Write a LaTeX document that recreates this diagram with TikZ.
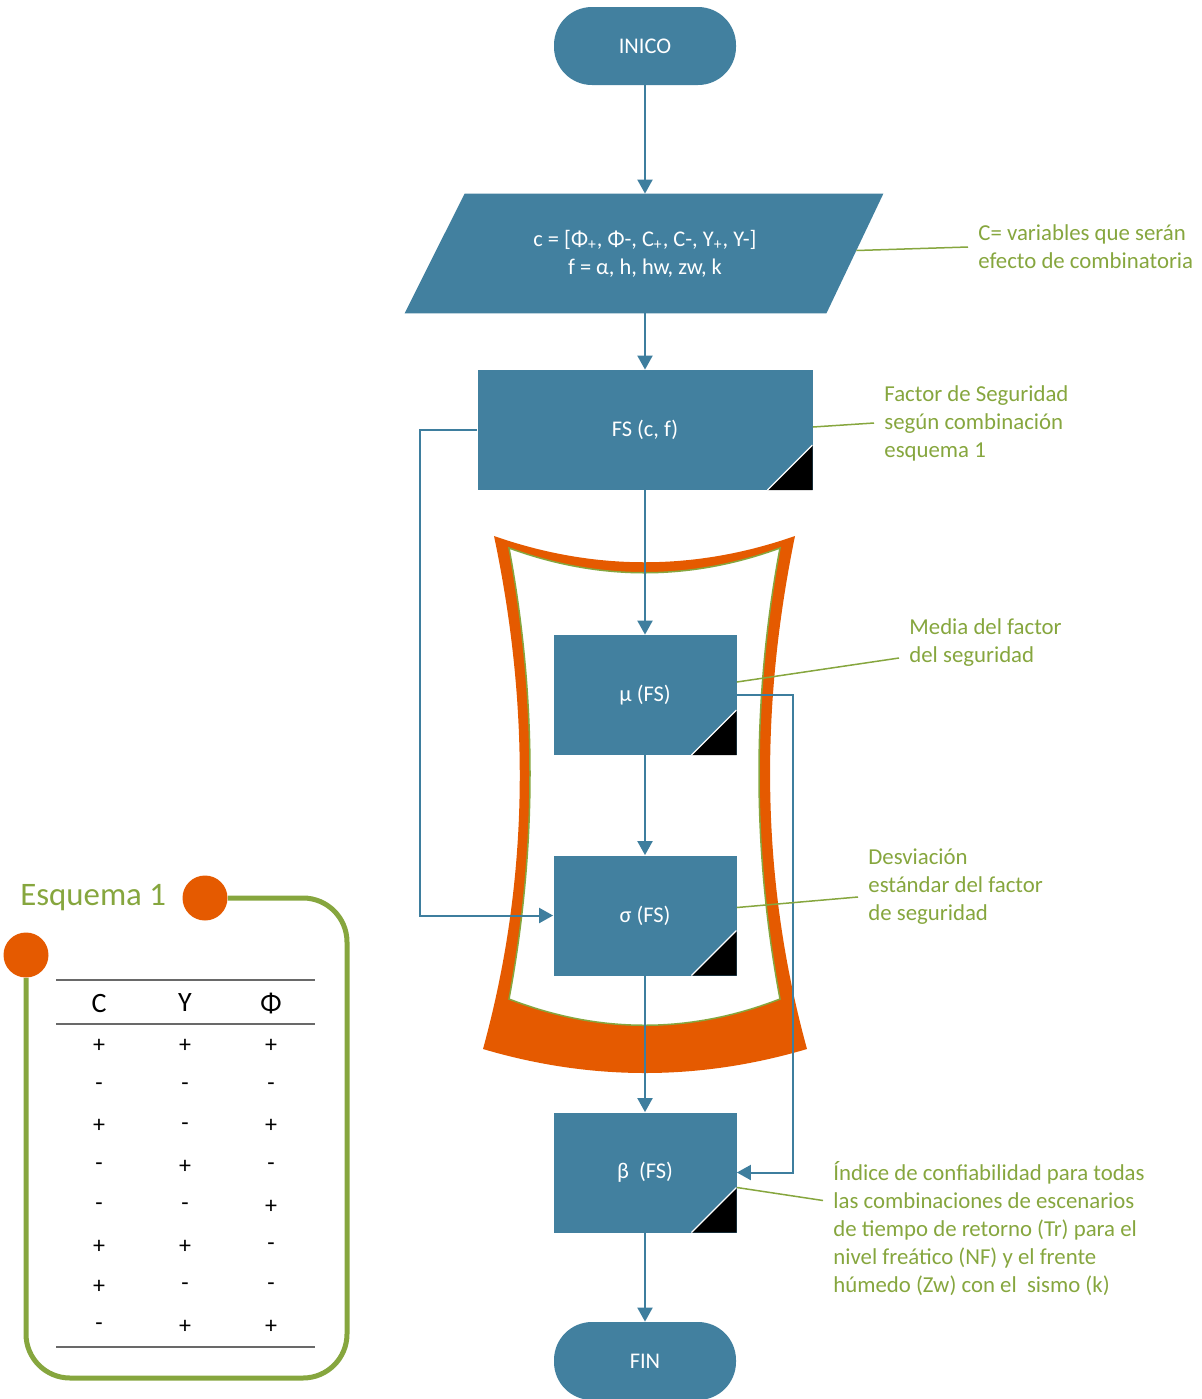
\documentclass[tikz,border=0pt]{standalone}
\usepackage{fontspec}
\setmainfont{Carlito}
\usetikzlibrary{arrows.meta,calc,backgrounds}

\definecolor{boxblue}{RGB}{66,128,159}
\definecolor{lineblue}{RGB}{62,126,158}
\definecolor{notegreen}{RGB}{134,166,62}
\definecolor{frameorange}{RGB}{229,90,0}
\definecolor{rulegray}{RGB}{105,105,105}

\begin{document}
\begin{tikzpicture}[x=0.5pt, y=-0.5pt,
        terminal/.style={fill=boxblue, rounded corners=19pt, minimum width=91pt, minimum height=39pt, text=white, font=\fontsize{11.2}{14}\selectfont},
        iobox/.style={minimum width=210pt, minimum height=59.5pt, text=white, align=center, font=\fontsize{11.2}{14}\selectfont},
        process/.style={fill=boxblue, minimum height=60pt, text=white, font=\fontsize{11.2}{14}\selectfont,
            path picture={
                \fill[black] ([yshift=22.5pt]path picture bounding box.south east) -- (path picture bounding box.south east) -- ([xshift=-22.5pt]path picture bounding box.south east) -- cycle;
                \draw[white, line width=0.6pt] ([yshift=22.5pt]path picture bounding box.south east) -- ([xshift=-22.5pt]path picture bounding box.south east);
            }},
        flow/.style={draw=lineblue, line width=1pt, -{Triangle[width=7.5pt,length=7pt]}},
        note/.style={draw=notegreen, line width=0.75pt},
        notetext/.style={anchor=west, inner sep=5pt, align=left, text=notegreen, font=\fontsize{11.4}{14}\selectfont},
        dot/.style={circle, fill=frameorange, minimum size=22.5pt, inner sep=0pt},
        head/.style={font=\fontsize{14}{16}\selectfont},
        sign/.style={font=\fontsize{12}{14}\selectfont}
    ]

    \useasboundingbox (0,0) rectangle (1201,1399);

    % marco naranja
    \fill[frameorange] (494,536) .. controls (594,571) and (695,571) .. (795,536)
        .. controls (760,707) and (760,878) .. (807,1049)
        .. controls (699,1081) and (591,1081) .. (483,1049)
        .. controls (530,878) and (530,707) .. (494,536) -- cycle;
    \filldraw[fill=white, draw=notegreen, line width=0.75pt] (509,548) .. controls (599,581) and (690,581) .. (780,548)
        .. controls (752,698) and (752,849) .. (780,999)
        .. controls (690,1034) and (599,1034) .. (509,999)
        .. controls (537,849) and (537,698) .. (509,548) -- cycle;

    % diagrama de flujo
    \node[terminal] (inicio) at (645,46) {INICO};
    \node[iobox] (datos) at (645,253.5) {c = [Φ\textsubscript{+}, Φ-, C\textsubscript{+}, C-, Y\textsubscript{+}, Y-]\\f = α, h, hw, zw, k};
    \begin{scope}[on background layer]
        \fill[boxblue] ($(datos.north west)+(30,0)$) -- ($(datos.north east)+(28,0)$) -- ($(datos.south east)+(-29,0)$) -- ($(datos.south west)+(-30,0)$) -- cycle;
    \end{scope}
    \node[process, minimum width=167.5pt] (fs) at (645,430) {FS (c, f)};
    \node[process, minimum width=91.5pt] (mu) at (645,695) {μ (FS)};
    \node[process, minimum width=91.5pt] (sigma) at (645,915.5) {σ (FS)};
    \node[process, minimum width=91.5pt] (beta) at (645,1172.5) {β~~(FS)};
    \node[terminal] (fin) at (645,1361) {FIN};

    \draw[flow] (inicio.south) -- (datos.north);
    \draw[flow] (datos.south) -- (fs.north);
    \draw[flow] (fs.south) -- (mu.north);
    \draw[flow] (mu.south) -- (sigma.north);
    \draw[flow] (sigma.south) -- (beta.north);
    \draw[flow] (beta.south) -- (fin.north);
    \draw[flow] (fs.west) -- ++(-57,0) |- (sigma.west);
    \draw[flow] (mu.east) -- ++(56,0) |- (beta.east);

    % notas
    \node[notetext] (n1) at (968,247) {C= variables que serán\\efecto de combinatoria};
    \node[notetext] (n2) at (874,423) {Factor de Seguridad\\según combinación\\esquema 1};
    \node[notetext] (n3) at (899,643) {Media del factor\\del seguridad};
    \node[notetext] (n4) at (858,887) {Desviación\\estándar del factor\\de seguridad};
    \node[notetext] (n5) at (823,1228.5) {Índice de confiabilidad para todas\\las combinaciones de escenarios\\de tiempo de retorno (Tr) para el\\nivel freático (NF) y el frente\\húmedo (Zw) con el~~sismo (k)};
    \draw[note] ($(datos.east)+(1,-3)$) -- (n1.west);
    \draw[note] ([yshift=1.5pt]fs.east) -- (n2.west);
    \draw[note] ([yshift=6.5pt]mu.east) -- ([yshift=-7.5pt]n3.west);
    \draw[note] ([yshift=4pt]sigma.east) -- ([yshift=-5pt]n4.west);
    \draw[note] ([yshift=-7.5pt]beta.east) -- ([yshift=14pt]n5.west);

    % esquema 1
    \node[anchor=west, inner sep=0pt, text=notegreen, font=\fontsize{16.4}{20}\selectfont] (esquema) at (20,898) {Esquema 1};
    \node[dot] (d1) at (205,898) {};
    \node[dot] (d2) at (26,955) {};
    \draw[notegreen, line width=2.5pt, rounded corners=22pt] (d1.east) -- (347,898) -- (347,1378) -- (26,1378) -- (d2.south);

    \draw[rulegray, line width=0.75pt] (56,980) -- (315,980);
    \draw[rulegray, line width=0.75pt] (56,1024) -- (315,1024);
    \draw[rulegray, line width=0.75pt] (56,1347) -- (315,1347);
    \node[head] (hc) at (99,1003) {C};
    \node[head] (hy) at (185,1003) {Υ};
    \node[head] (hf) at (271,1003) {Φ};
    \foreach \colC/\colY/\colF [count=\r] in {+/+/+, -/-/-, +/-/+, -/+/-, -/-/+, +/+/-, +/-/-, -/+/+}
        {
            \node[sign] (c_\r) at (99, 1006+40.1*\r) {\colC};
            \node[sign] (y_\r) at (185, 1006+40.1*\r) {\colY};
            \node[sign] (f_\r) at (271, 1006+40.1*\r) {\colF};
        }
\end{tikzpicture}
\end{document}
